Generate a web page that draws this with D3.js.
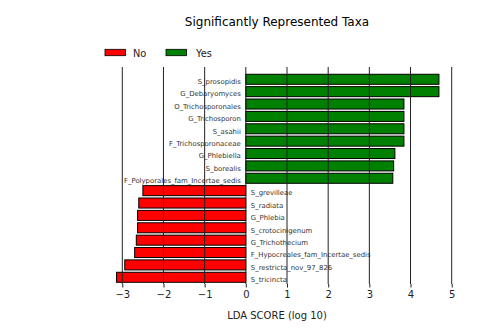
<!DOCTYPE html>
<html>
<head>
<meta charset="utf-8">
<script src="https://cdn.jsdelivr.net/npm/d3@7"></script>
<style>
  body { margin: 0; background: #fff; }
  svg { display: block; font-family: "DejaVu Sans", sans-serif; }
</style>
</head>
<body>
<svg></svg>
<script>
// data
const taxa = [
    "S_prosopidis", "G_Debaryomyces", "O_Trichosporonales", "G_Trichosporon", "S_asahii",
    "F_Trichosporonaceae", "G_Phlebiella", "S_borealis", "F_Polyporales_fam_Incertae_sedis",
    "S_grevilleae", "S_radiata", "G_Phlebia", "S_crotocinigenum", "G_Trichothecium",
    "F_Hypocreales_fam_Incertae_sedis", "S_restricta_nov_97_826", "S_tricincta"
];
const lda = [4.69, 4.69, 3.84, 3.84, 3.84, 3.84, 3.62, 3.59, 3.57,
    -2.5, -2.6, -2.63, -2.63, -2.66, -2.7, -2.94, -3.14];
const groups = ["Yes", "Yes", "Yes", "Yes", "Yes", "Yes", "Yes", "Yes", "Yes",
    "No", "No", "No", "No", "No", "No", "No", "No"];
const legendKeys = ["No", "Yes"];
const ticks = [-3, -2, -1, 0, 1, 2, 3, 4, 5];

//setting
const Width = 504;
const Height = 334;
const plotTop = 67, plotBottom = 284;
const svg = d3.select("svg").attr("width", Width).attr("height", Height);

const color = d3.scaleOrdinal().domain(legendKeys).range(["#ff0000", "#008000"]);
const x = d3.scaleLinear().domain([-3, 5]).range([122.3, 451.7]);
const y = d3.scaleBand().domain(taxa).range([plotTop, plotBottom])
    .paddingInner(0.19).paddingOuter(0.3625).align(0.81);

// title
svg.append("text")
    .attr("x", 277).attr("y", 26)
    .attr("text-anchor", "middle")
    .style("font-size", "12px")
    .text("Significantly Represented Taxa");

// legend
const leg = svg.append("g").selectAll("g")
    .data(legendKeys)
    .join("g")
    .attr("transform", (d, i) => `translate(${105 + i * 61}, 49.3)`);
leg.append("rect")
    .attr("width", 20.5).attr("height", 6.4)
    .attr("fill", d => color(d))
    .attr("stroke", "#000").attr("stroke-width", 0.8);
leg.append("text")
    .attr("x", (d, i) => i === 0 ? 28 : 30).attr("y", 7.3)
    .style("font-size", "9.8px")
    .attr("fill", "#222")
    .text(d => d);

// bars
svg.append("g")
    .selectAll("rect")
    .data(taxa)
    .join("rect")
    .attr("x", (d, i) => x(Math.min(0, lda[i])))
    .attr("y", d => y(d))
    .attr("width", (d, i) => Math.abs(x(lda[i]) - x(0)))
    .attr("height", y.bandwidth())
    .attr("fill", (d, i) => color(groups[i]))
    .attr("stroke", "#000")
    .attr("stroke-width", 1);

// labels
svg.append("g")
    .selectAll("text")
    .data(taxa)
    .join("text")
    .attr("x", (d, i) => lda[i] > 0 ? x(0) - 5 : x(0) + 5)
    .attr("y", d => y(d) + y.bandwidth() / 2 + 4.8)
    .attr("text-anchor", (d, i) => lda[i] > 0 ? "end" : "start")
    .style("font-size", "6.9px")
    .attr("fill", "#333")
    .text(d => d);

// grid
svg.append("g")
    .selectAll("line")
    .data(ticks)
    .join("line")
    .attr("x1", d => x(d)).attr("x2", d => x(d))
    .attr("y1", plotTop).attr("y2", plotBottom)
    .attr("stroke", "#222").attr("stroke-width", 1);

// x axis
const xAxis = svg.append("g")
    .attr("transform", `translate(0, ${plotBottom})`)
    .call(d3.axisBottom(x).tickValues(ticks).tickSize(3.5).tickPadding(3.5)
        .tickFormat(d => d < 0 ? "\u2212" + Math.abs(d) : d));
xAxis.select(".domain").remove();
xAxis.selectAll("line").attr("stroke", "#222");
xAxis.selectAll("text")
    .style("font-size", "10px")
    .style("font-family", "DejaVu Sans, sans-serif")
    .attr("fill", "#222");

svg.append("text")
    .attr("x", 277).attr("y", 318.5)
    .attr("text-anchor", "middle")
    .style("font-size", "10px")
    .attr("fill", "#222")
    .text("LDA SCORE (log 10)");
</script>
</body>
</html>
